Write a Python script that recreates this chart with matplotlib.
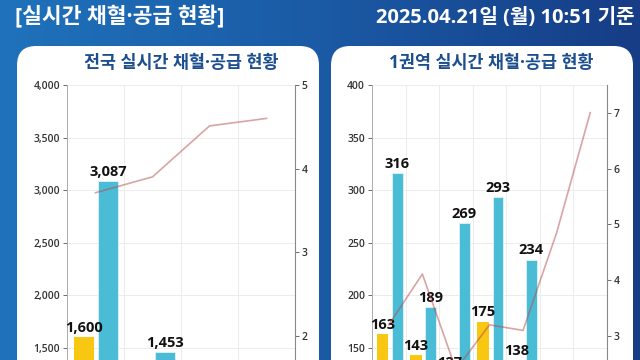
import numpy as np
import matplotlib
matplotlib.use("Agg")
import matplotlib.pyplot as plt
from matplotlib.patches import FancyBboxPatch
from matplotlib.colors import LinearSegmentedColormap

plt.rcParams['font.family'] = ['Open Sans', 'Noto Sans CJK KR', 'DejaVu Sans']

# ── Data ─────────────────────────────────────────────────────────────
title_main = "[실시간 채혈·공급 현황]"
title_date = "2025.04.21일 (월) 10:51 기준"

# 전국 (nationwide): collection, supply, ratio line
nat_title = "전국 실시간 채혈·공급 현황"
nat_cats = ["A", "B", "C", "D"]
nat_yellow = [1600, 1150, 950, 1000]
nat_blue = [3087, 1453, 1200, 1100]
nat_line = [3.71, 3.90, 4.51, 4.60]

# 1권역 (region 1)
reg_title = "1권역 실시간 채혈·공급 현황"
reg_cats = ["1", "2", "3", "4", "5", "6", "7"]
reg_yellow = [163, 143, 127, 175, 138, 110, 100]
reg_blue = [316, 189, 269, 293, 234, 120, 115]
reg_line = [3.20, 4.11, 2.40, 3.20, 3.10, 4.85, 7.00]

YELLOW = "#f8c712"
BLUE = "#4bbcd5"
LINE = "#b44a4a"
TITLE_BLUE = "#1d4f8f"

W, H = 640, 360
fig = plt.figure(figsize=(6.4, 3.6), dpi=100)

# background gradient
bg = fig.add_axes([0, 0, 1, 1], zorder=-10)
grad = np.linspace(0, 1, 256)[None, :]
cmap = LinearSegmentedColormap.from_list("bg", ["#1f72bb", "#1b5aa5", "#163d86"])
bg.imshow(grad, aspect="auto", cmap=cmap, extent=[0, 1, 0, 1])
bg.set_axis_off()

# white panels
for x0, x1 in [(17, 319), (331, 633)]:
    p = FancyBboxPatch((x0 / W, -0.2), (x1 - x0) / W, (0.2 + (360 - 46) / H),
                       boxstyle="round,pad=0,rounding_size=0.03",
                       transform=fig.transFigure, facecolor="white",
                       edgecolor="none", zorder=-5, mutation_aspect=W / H)
    fig.patches.append(p)

fig.text(15 / W, 1 - 17 / H, title_main, color="white", fontsize=15.5,
         fontweight="bold", va="center", ha="left")
fig.text(635 / W, 1 - 18 / H, title_date, color="white", fontsize=14.5,
         fontweight="bold", va="center", ha="right")


def draw_panel(left_px, right_px, cx_px, title, yellow, blue, line,
               ylim, y2lim, yticks, y2ticks, off_y, off_b, w_y, w_b):
    fig.text(cx_px / W, 1 - 63 / H, title, color=TITLE_BLUE, fontsize=12.5,
             fontweight="bold", ha="center", va="center")
    ax = fig.add_axes([left_px / W, 0, (right_px - left_px) / W, (360 - 85) / H])
    n = len(yellow)
    x = np.arange(n)
    ax.set_xlim(-0.5, n - 0.5)
    ax.set_ylim(*ylim)
    ax.bar(x + off_y, yellow, width=w_y, color=YELLOW, zorder=2)
    ax.bar(x + off_b, blue, width=w_b, color=BLUE, edgecolor="#dff4f8",
           linewidth=0.6, zorder=2)
    span = ylim[1] - ylim[0]
    pad = span * 0.008
    for off, vals in [(off_y, yellow), (off_b, blue)]:
        for xi, v in zip(x, vals):
            # skip labels that would sit entirely below the visible area
            if v + span * 0.045 < ylim[0]:
                continue
            ax.text(xi + off, v + pad, f"{v:,}", ha="center", va="bottom",
                    fontsize=10.5, fontweight="bold", color="#111111",
                    zorder=5, clip_on=False)
    ax.set_yticks(yticks)
    ax.set_yticklabels([f"{t:,}" for t in yticks], fontweight="semibold")
    ax.set_xticks(np.arange(n + 1) - 0.5)
    ax.set_xticklabels([])
    ax.tick_params(axis="x", length=0)
    ax.tick_params(axis="y", labelsize=7.5, colors="#555555", labelcolor="#333333",
                   length=3, width=0.6, pad=2)
    ax.grid(True, color="#ececec", linewidth=0.7, zorder=0)
    ax.set_axisbelow(True)
    for s in ["top", "bottom", "right"]:
        ax.spines[s].set_visible(False)
    ax.spines["left"].set_color("#aaaaaa")
    ax.spines["left"].set_linewidth(0.7)
    ax.set_facecolor("none")

    ax2 = ax.twinx()
    ax2.set_ylim(*y2lim)
    ax2.plot(x, line, color=LINE, alpha=0.5, linewidth=1.2, zorder=3)
    ax2.set_yticks(y2ticks)
    ax2.set_yticklabels([str(t) for t in y2ticks], fontweight="semibold")
    ax2.tick_params(axis="y", labelsize=7.5, colors="#555555", labelcolor="#333333",
                    length=3, width=0.6, pad=2)
    for s in ["top", "bottom", "left"]:
        ax2.spines[s].set_visible(False)
    ax2.spines["right"].set_color("#888888")
    ax2.spines["right"].set_linewidth(0.8)
    return ax, ax2


draw_panel(67, 295, 181, nat_title, nat_yellow, nat_blue, nat_line,
           (1381, 4000), (1.707, 5.0), [1500, 2000, 2500, 3000, 3500, 4000],
           [2, 3, 4, 5], -0.21, 0.22, 0.35, 0.35)

draw_panel(372, 607, 491, reg_title, reg_yellow, reg_blue, reg_line,
           (138.4, 400), (2.57, 7.496), [150, 200, 250, 300, 350, 400],
           [3, 4, 5, 6, 7], -0.19, 0.25, 0.34, 0.32)

fig.savefig("out.png", dpi=100)
